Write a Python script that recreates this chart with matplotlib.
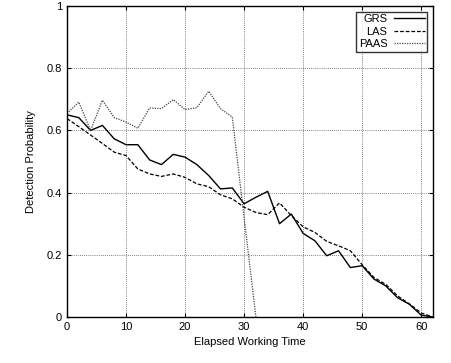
import matplotlib
matplotlib.use("Agg")
import matplotlib.pyplot as plt
from matplotlib.ticker import FuncFormatter

plt.rcParams['font.family'] = ['Liberation Sans', 'DejaVu Sans']

t = list(range(0, 63, 2))
grs = [0.65, 0.641, 0.60, 0.616, 0.573, 0.554, 0.554, 0.505, 0.49, 0.523, 0.514,
       0.49, 0.455, 0.412, 0.415, 0.364, 0.385, 0.404, 0.30, 0.331, 0.269, 0.245,
       0.197, 0.213, 0.159, 0.165, 0.122, 0.10, 0.062, 0.041, 0.006, 0.0]
las = [0.638, 0.612, 0.585, 0.558, 0.53, 0.519, 0.476, 0.46, 0.452, 0.46, 0.449,
       0.428, 0.419, 0.393, 0.38, 0.353, 0.336, 0.329, 0.367, 0.326, 0.29, 0.272,
       0.243, 0.229, 0.213, 0.168, 0.127, 0.105, 0.068, 0.042, 0.013, 0.0]
t_paas = list(range(0, 33, 2))
paas = [0.654, 0.691, 0.60, 0.697, 0.641, 0.627, 0.607, 0.672, 0.67, 0.699, 0.667,
        0.673, 0.726, 0.67, 0.643, 0.32, 0.0]

fig = plt.figure(figsize=(4.51, 3.63), dpi=100)
ax = fig.add_axes([67/451, 1-317/363, (433-67)/451, (317-6)/363])

ax.plot(t, grs, color='black', lw=1.0, label='GRS')
ax.plot(t, las, color='black', lw=0.9, linestyle=(0, (3, 1.5)), label='LAS')
ax.plot(t_paas, paas, color='#444444', lw=0.9, linestyle=(0, (1, 1)), label='PAAS')

ax.set_xlim(0, 62)
ax.set_ylim(0, 1)
ax.set_xticks([0, 10, 20, 30, 40, 50, 60])
ax.set_yticks([0, 0.2, 0.4, 0.6, 0.8, 1.0])
ax.yaxis.set_major_formatter(FuncFormatter(lambda v, p: '%g' % v))
ax.grid(True, color='#555555', linestyle=(0, (1, 1.5)), lw=0.6)
ax.tick_params(direction='in', length=3, labelsize=8, top=True, right=True, width=0.8)
for s in ax.spines.values():
    s.set_linewidth(1.0)

ax.set_xlabel('Elapsed Working Time', fontsize=8, labelpad=4)
ax.set_ylabel('Detection Probability', fontsize=8, labelpad=8)

leg = ax.legend(loc='upper right', markerfirst=False, fontsize=8, frameon=True,
                fancybox=False, edgecolor='black', handlelength=2.8,
                borderpad=0.25, labelspacing=0.2, handletextpad=0.55,
                borderaxespad=0.5)
leg.get_frame().set_linewidth(1.0)

fig.savefig('out.png', dpi=100)
